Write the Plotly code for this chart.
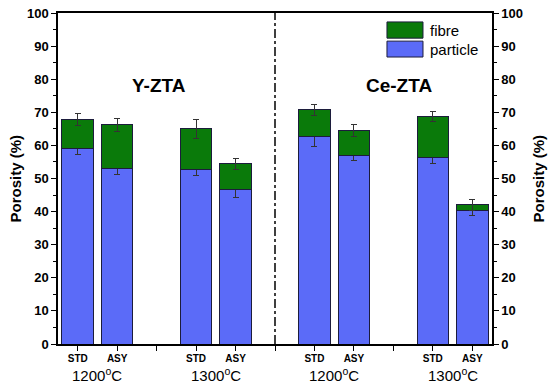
import plotly.graph_objects as go

# ---- data ----
positions = [0, 1, 3, 4, 6, 7, 9, 10]
tick_vals = list(range(11))
tick_text = ["STD", "ASY", "", "STD", "ASY", "", "STD", "ASY", "", "STD", "ASY"]
particle = [59.0, 53.0, 52.6, 46.6, 62.6, 56.9, 56.3, 40.3]
particle_err = [1.7, 1.8, 1.8, 2.2, 2.9, 1.6, 1.9, 1.5]
total = [67.7, 66.2, 65.0, 54.4, 70.7, 64.4, 68.6, 42.0]
total_err = [1.8, 1.9, 2.9, 1.6, 1.6, 1.8, 1.5, 1.8]
fibre = [t - p for t, p in zip(total, particle)]
temp_pos = [0.5, 3.5, 6.5, 9.5]
temp_labels = ["1200<sup>o</sup>C", "1300<sup>o</sup>C", "1200<sup>o</sup>C", "1300<sup>o</sup>C"]
group_pos = [2.05, 8.15]
group_labels = ["Y-ZTA", "Ce-ZTA"]
axis_title = "Porosity (%)"

BLUE = "#5b6bf8"
GREEN = "#0a7a0a"
EDGE = "#1c1c3c"
FONT = "Liberation Sans, Arial, sans-serif"

fig = go.Figure()
fig.add_trace(go.Bar(
    x=positions, y=particle, name="particle", width=0.8,
    marker=dict(color=BLUE, line=dict(color=EDGE, width=1)),
    error_y=dict(type="data", array=particle_err, color="#333333", thickness=1, width=3),
))
fig.add_trace(go.Bar(
    x=positions, y=fibre, name="fibre", width=0.8,
    marker=dict(color=GREEN, line=dict(color=EDGE, width=1)),
    error_y=dict(type="data", array=total_err, color="#333333", thickness=1, width=3),
))
# invisible trace for right axis
fig.add_trace(go.Scatter(x=[positions[0]], y=[0], yaxis="y2", mode="markers",
                         marker=dict(opacity=0), showlegend=False, hoverinfo="skip"))

axis_font = dict(family=FONT, size=13, color="black", weight="bold")
yax = dict(range=[0, 100], dtick=10, tickmode="linear", tick0=0,
           ticks="outside", ticklen=5, tickwidth=1.2, tickcolor="black",
           minor=dict(ticks="outside", ticklen=3, dtick=5, tickcolor="black", tickwidth=1),
           showline=True, linecolor="black", linewidth=1.5,
           showgrid=False, zeroline=False, automargin=False,
           tickfont=axis_font)

fig.update_layout(
    width=550, height=390,
    margin=dict(l=58, r=58, t=13, b=46),
    paper_bgcolor="white", plot_bgcolor="white",
    barmode="stack", showlegend=False,
    font=dict(family=FONT, color="black"),
    xaxis=dict(range=[-0.5, 10.5], tickmode="array", tickvals=tick_vals, ticktext=tick_text,
               ticks="outside", ticklen=5, tickwidth=1.2, tickcolor="black",
               showline=True, linecolor="black", linewidth=1.5, mirror=True,
               showgrid=False, zeroline=False, automargin=False, ticklabelstandoff=-1,
               tickfont=dict(family=FONT, size=10, color="black", weight="bold")),
    yaxis=yax,
    yaxis2=dict(yax, overlaying="y", side="right", matches="y"),
)

# axis titles (left and right)
for xp in [-0.099, 1.106]:
    fig.add_annotation(x=xp, y=0.5, xref="paper", yref="paper", text=axis_title, showarrow=False,
                       textangle=-90, xanchor="center", yanchor="middle",
                       font=dict(family=FONT, size=15, color="black", weight="bold"))

# divider
fig.add_shape(type="line", xref="x", yref="y", x0=5, x1=5, y0=0, y1=100,
              line=dict(color="black", width=1.5, dash="dashdot"))

# group titles
for xp, lab in zip(group_pos, group_labels):
    fig.add_annotation(x=xp, y=78, xref="x", yref="y", text=lab, showarrow=False,
                       font=dict(family=FONT, size=19, color="black", weight="bold"))

# temperatures
for xp, lab in zip(temp_pos, temp_labels):
    fig.add_annotation(x=xp, y=-0.128, xref="x", yref="paper", text=lab, showarrow=False,
                       yanchor="bottom", font=dict(family=FONT, size=15, color="black"))

# custom legend
legend_items = [("fibre", GREEN, 0.924, 0.973), ("particle", BLUE, 0.867, 0.915)]
for name, col, y0, y1 in legend_items:
    fig.add_shape(type="rect", xref="paper", yref="paper", x0=0.758, x1=0.841, y0=y0, y1=y1,
                  fillcolor=col, line=dict(color=EDGE, width=1))
    fig.add_annotation(x=0.852, y=(y0 + y1) / 2, xref="paper", yref="paper", text=name,
                       showarrow=False, xanchor="left", yanchor="middle",
                       font=dict(family=FONT, size=15, color="black"))

# remove the default page margin so the figure sits at the window's top-left corner
fig.write_html("out.html", config={"displayModeBar": False},
               post_script="document.body.style.margin='0px';")
